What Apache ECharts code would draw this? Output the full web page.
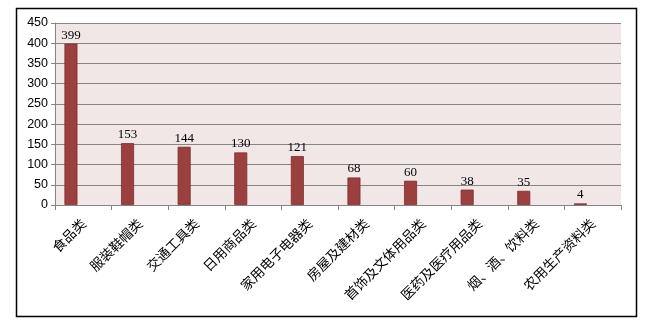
<!DOCTYPE html>
<html><head><meta charset="utf-8">
<script src="https://cdn.jsdelivr.net/npm/echarts@6/dist/echarts.min.js"></script>
<style>html,body{margin:0;padding:0;background:#fff}#c{width:651px;height:328px}</style>
</head><body><div id="c"></div>
<script>
const categories = ['食品类','服装鞋帽类','交通工具类','日用商品类','家用电子电器类','房屋及建材类','首饰及文体用品类','医药及医疗用品类','烟、酒、饮料类','农用生产资料类'];
const values = [399,153,144,130,121,68,60,38,35,4];
const yMin = 0, yMax = 450, yInterval = 50;

const chart = echarts.init(document.getElementById('c'), null, {renderer:'canvas'});
chart.setOption({
  animation:false,
  backgroundColor:'#ffffff',
  graphic:[{type:'rect',shape:{x:16.5,y:8.5,width:620,height:308},style:{fill:'none',stroke:'#000',lineWidth:1.5},silent:true}],
  grid:{left:55,top:23,right:30,bottom:123,show:true,backgroundColor:'#F2E7E7',borderWidth:0},
  xAxis:{type:'category',data:categories,
    axisLine:{lineStyle:{color:'#868686',width:1}},
    axisTick:{show:true,length:5,lineStyle:{color:'#868686'},alignWithLabel:false},
    axisLabel:{rotate:45,interval:0,fontFamily:'Noto Sans CJK SC',fontSize:13.5,color:'#000',margin:16}},
  yAxis:{type:'value',min:yMin,max:yMax,interval:yInterval,
    axisLine:{show:true,lineStyle:{color:'#868686'}},
    axisTick:{show:true,length:4,lineStyle:{color:'#868686'}},
    splitLine:{lineStyle:{color:'#868686',width:1}},
    axisLabel:{fontFamily:'Liberation Sans',fontSize:12.5,color:'#000',margin:7}},
  series:[{type:'bar',data:values,barWidth:13,barGap:'90%',
    itemStyle:{color:'#9C3F3F',borderColor:'#7B2E2E',borderWidth:0.8},
    label:{show:true,position:'top',fontFamily:'Liberation Serif',fontSize:13,color:'#000',distance:2}},
    {type:'bar',data:values.map(()=>null),barWidth:13,silent:true}]
});
</script></body></html>
